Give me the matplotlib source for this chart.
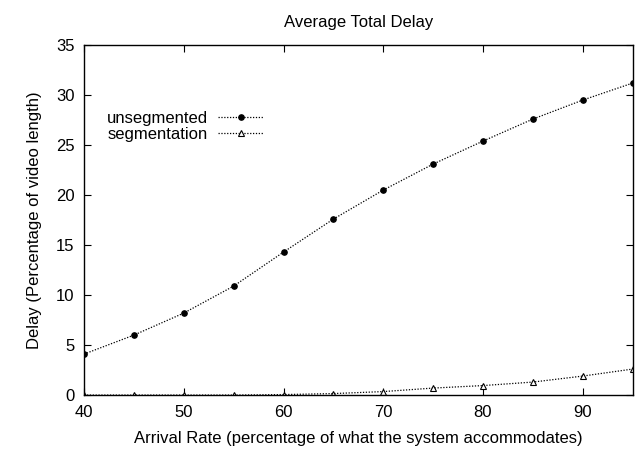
import matplotlib
matplotlib.use('Agg')
import matplotlib.pyplot as plt

plt.rcParams['font.family'] = ['Liberation Sans', 'DejaVu Sans']

rate = [40, 45, 50, 55, 60, 65, 70, 75, 80, 85, 90, 95]
unsegmented = [4.1, 6.0, 8.2, 10.9, 14.3, 17.6, 20.5, 23.1, 25.4, 27.6, 29.5, 31.2]
segmentation = [0.0, 0.0, 0.0, 0.0, 0.05, 0.15, 0.35, 0.7, 0.95, 1.3, 1.9, 2.6]

fig = plt.figure(figsize=(6.37, 4.51), dpi=100)
ax = fig.add_axes([0.132, 0.124, 0.861, 0.776])

ax.plot(rate, unsegmented, color='black', linestyle=(0, (1, 1.3)), linewidth=0.9,
        marker='o', markersize=3.8, markerfacecolor='black', label='unsegmented')
ax.plot(rate, segmentation, color='black', linestyle=(0, (1, 1.3)), linewidth=0.9,
        marker='^', markersize=4.5, markerfacecolor='white', markeredgewidth=0.8,
        label='segmentation')

ax.set_xlim(40, 95)
ax.set_ylim(0, 35)
ax.set_xticks([40, 50, 60, 70, 80, 90])
ax.set_yticks([0, 5, 10, 15, 20, 25, 30, 35])
ax.tick_params(direction='in', top=True, right=True, labelsize=12, length=5, pad=7)
for s in ax.spines.values():
    s.set_linewidth(1.0)

ax.set_title('Average Total Delay', fontsize=12, pad=13)
ax.set_xlabel('Arrival Rate (percentage of what the system accommodates)', fontsize=12, labelpad=8)
ax.set_ylabel('Delay (Percentage of video length)', fontsize=12, labelpad=10)

ax.legend(loc='upper left', bbox_to_anchor=(0.03, 0.83), frameon=False, markerfirst=False,
          fontsize=12, handlelength=2.7, handletextpad=0.6, labelspacing=0.05, borderaxespad=0)

fig.savefig('out.png', dpi=100)
